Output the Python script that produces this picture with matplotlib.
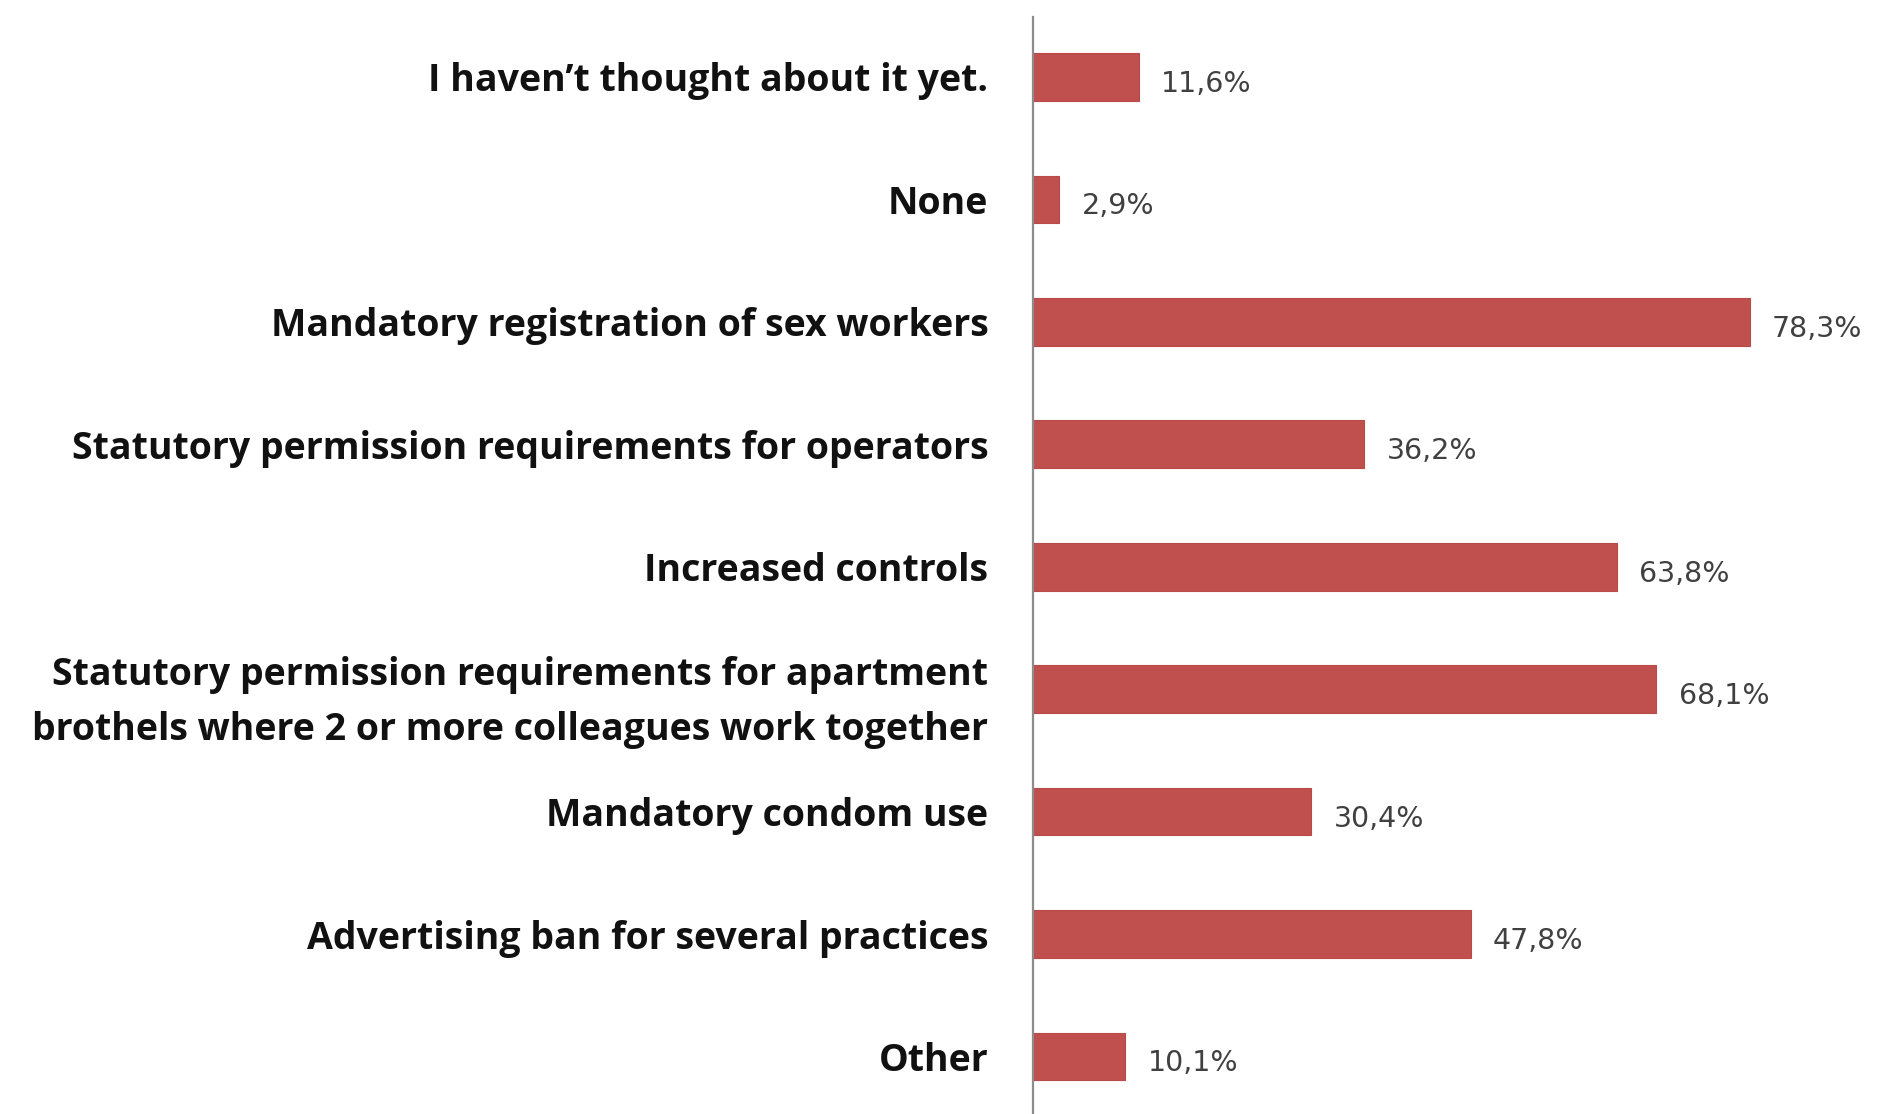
import matplotlib
matplotlib.use("Agg")
import matplotlib.pyplot as plt

categories = [
    "I haven\u2019t thought about it yet.",
    "None",
    "Mandatory registration of sex workers",
    "Statutory permission requirements for operators",
    "Increased controls",
    "Statutory permission requirements for apartment\nbrothels where 2 or more colleagues work together",
    "Mandatory condom use",
    "Advertising ban for several practices",
    "Other",
]
values = [11.6, 2.9, 78.3, 36.2, 63.8, 68.1, 30.4, 47.8, 10.1]
value_labels = ["11,6%", "2,9%", "78,3%", "36,2%", "63,8%", "68,1%", "30,4%", "47,8%", "10,1%"]

fig = plt.figure(figsize=(18.78, 11.14), dpi=100)
ax = fig.add_axes([0.550, 0.0, 0.450, 1 - 17 / 1114])

ypos = list(range(len(categories)))
ax.barh(ypos, values, height=0.39, color="#C0504D", edgecolor="#B84A47", linewidth=0.8)

ax.set_xlim(0, 92.3)
ax.set_ylim(8.47, -0.49)

for y, v, lab in zip(ypos, values, value_labels):
    ax.annotate(lab, xy=(v, y), xytext=(16, -5), textcoords="offset points",
                va="center", ha="left", fontsize=20.5, color="#404040",
                family="DejaVu Sans")

ax.set_yticks(ypos)
ax.set_yticklabels(categories, fontsize=27, fontweight="bold", family="Open Sans",
                   color="#111111", linespacing=1.6)
ax.tick_params(axis="y", length=0, pad=32)
ax.set_xticks([])
for s in ["top", "right", "bottom"]:
    ax.spines[s].set_visible(False)
ax.spines["left"].set_color("#8C8C8C")
ax.spines["left"].set_linewidth(1.6)

fig.savefig("out.png", dpi=100)
